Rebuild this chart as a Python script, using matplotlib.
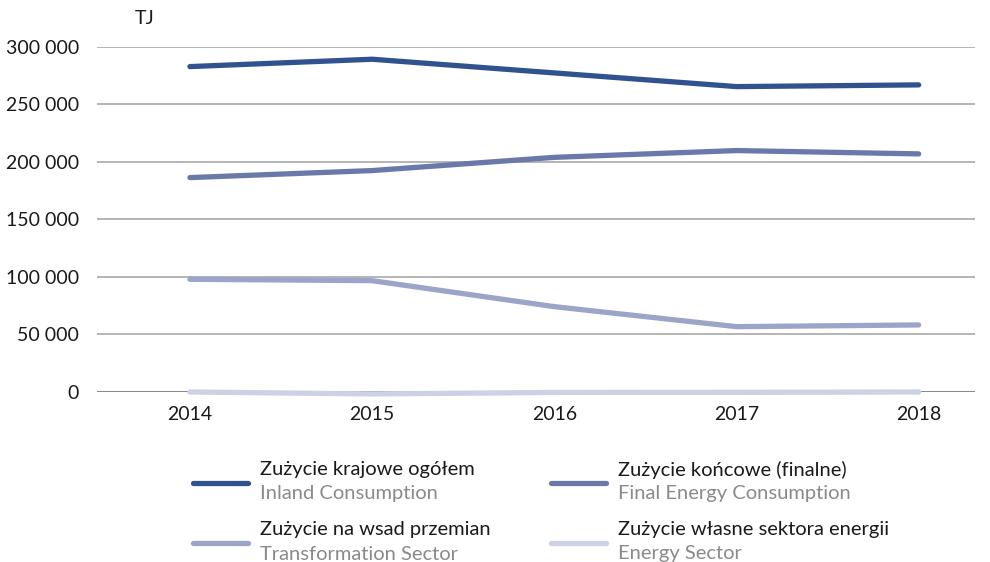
import matplotlib.pyplot as plt
from matplotlib.lines import Line2D
from matplotlib.ticker import FuncFormatter

plt.rcParams["font.family"] = ["Lato", "DejaVu Sans"]

years = ["2014", "2015", "2016", "2017", "2018"]
inland = [282900, 289300, 277400, 265500, 267000]
final = [186400, 192500, 204000, 209900, 207000]
transformation = [98000, 96800, 74200, 56800, 58300]
energy_sector = [0, -1700, -400, -300, 0]

labels_pl = ["Zużycie krajowe ogółem", "Zużycie końcowe (finalne)",
             "Zużycie na wsad przemian", "Zużycie własne sektora energii"]
labels_en = ["Inland Consumption", "Final Energy Consumption",
             "Transformation Sector", "Energy Sector"]
colors = ["#30538f", "#6a78aa", "#9aa5c8", "#cdd1e6"]
series = [inland, final, transformation, energy_sector]

fig = plt.figure(figsize=(9.9, 5.62), dpi=100)
ax = fig.add_axes([0.098, 0.3025, 0.887, 0.614])

x = range(len(years))
for vals, c in zip(series, colors):
    ax.plot(x, vals, color=c, lw=3.8, solid_capstyle="round",
            solid_joinstyle="round", clip_on=False, zorder=3)

ax.set_xlim(-0.51, 4.31)
ax.set_ylim(0, 300000)
ax.set_yticks(range(0, 300001, 50000))
ax.yaxis.set_major_formatter(FuncFormatter(lambda v, p: f"{int(v):,}".replace(",", " ")))
ax.set_xticks(list(x))
ax.set_xticklabels(years)
ax.tick_params(length=0, labelsize=14, colors="#1a1a1a")
ax.tick_params(axis="y", pad=13)
ax.tick_params(axis="x", pad=10)
ax.grid(axis="y", color="#a0a0a0", lw=1.1)
ax.set_axisbelow(True)
for s in ax.spines.values():
    s.set_visible(False)
ax.axhline(0, color="#808080", lw=1.2, zorder=2)

fig.text(145 / 990, 1 - 19 / 562, "TJ", ha="center", va="center",
         fontsize=14, color="#1a1a1a")

# legend, drawn by hand (two-line labels in two colours)
pos = [(193, 483), (551, 483), (193, 543), (551, 543)]
for (px, py), c, pl, en in zip(pos, colors, labels_pl, labels_en):
    fig.add_artist(Line2D([px / 990, (px + 55) / 990], [1 - py / 562] * 2,
                          color=c, lw=3.8, solid_capstyle="round"))
    fig.text((px + 67) / 990, 1 - (py - 13) / 562, pl, ha="left", va="center",
             fontsize=14.5, color="#1a1a1a")
    fig.text((px + 67) / 990, 1 - (py + 11) / 562, en, ha="left", va="center",
             fontsize=14.5, color="#8a8a8a")

fig.savefig("out.png", dpi=100)
